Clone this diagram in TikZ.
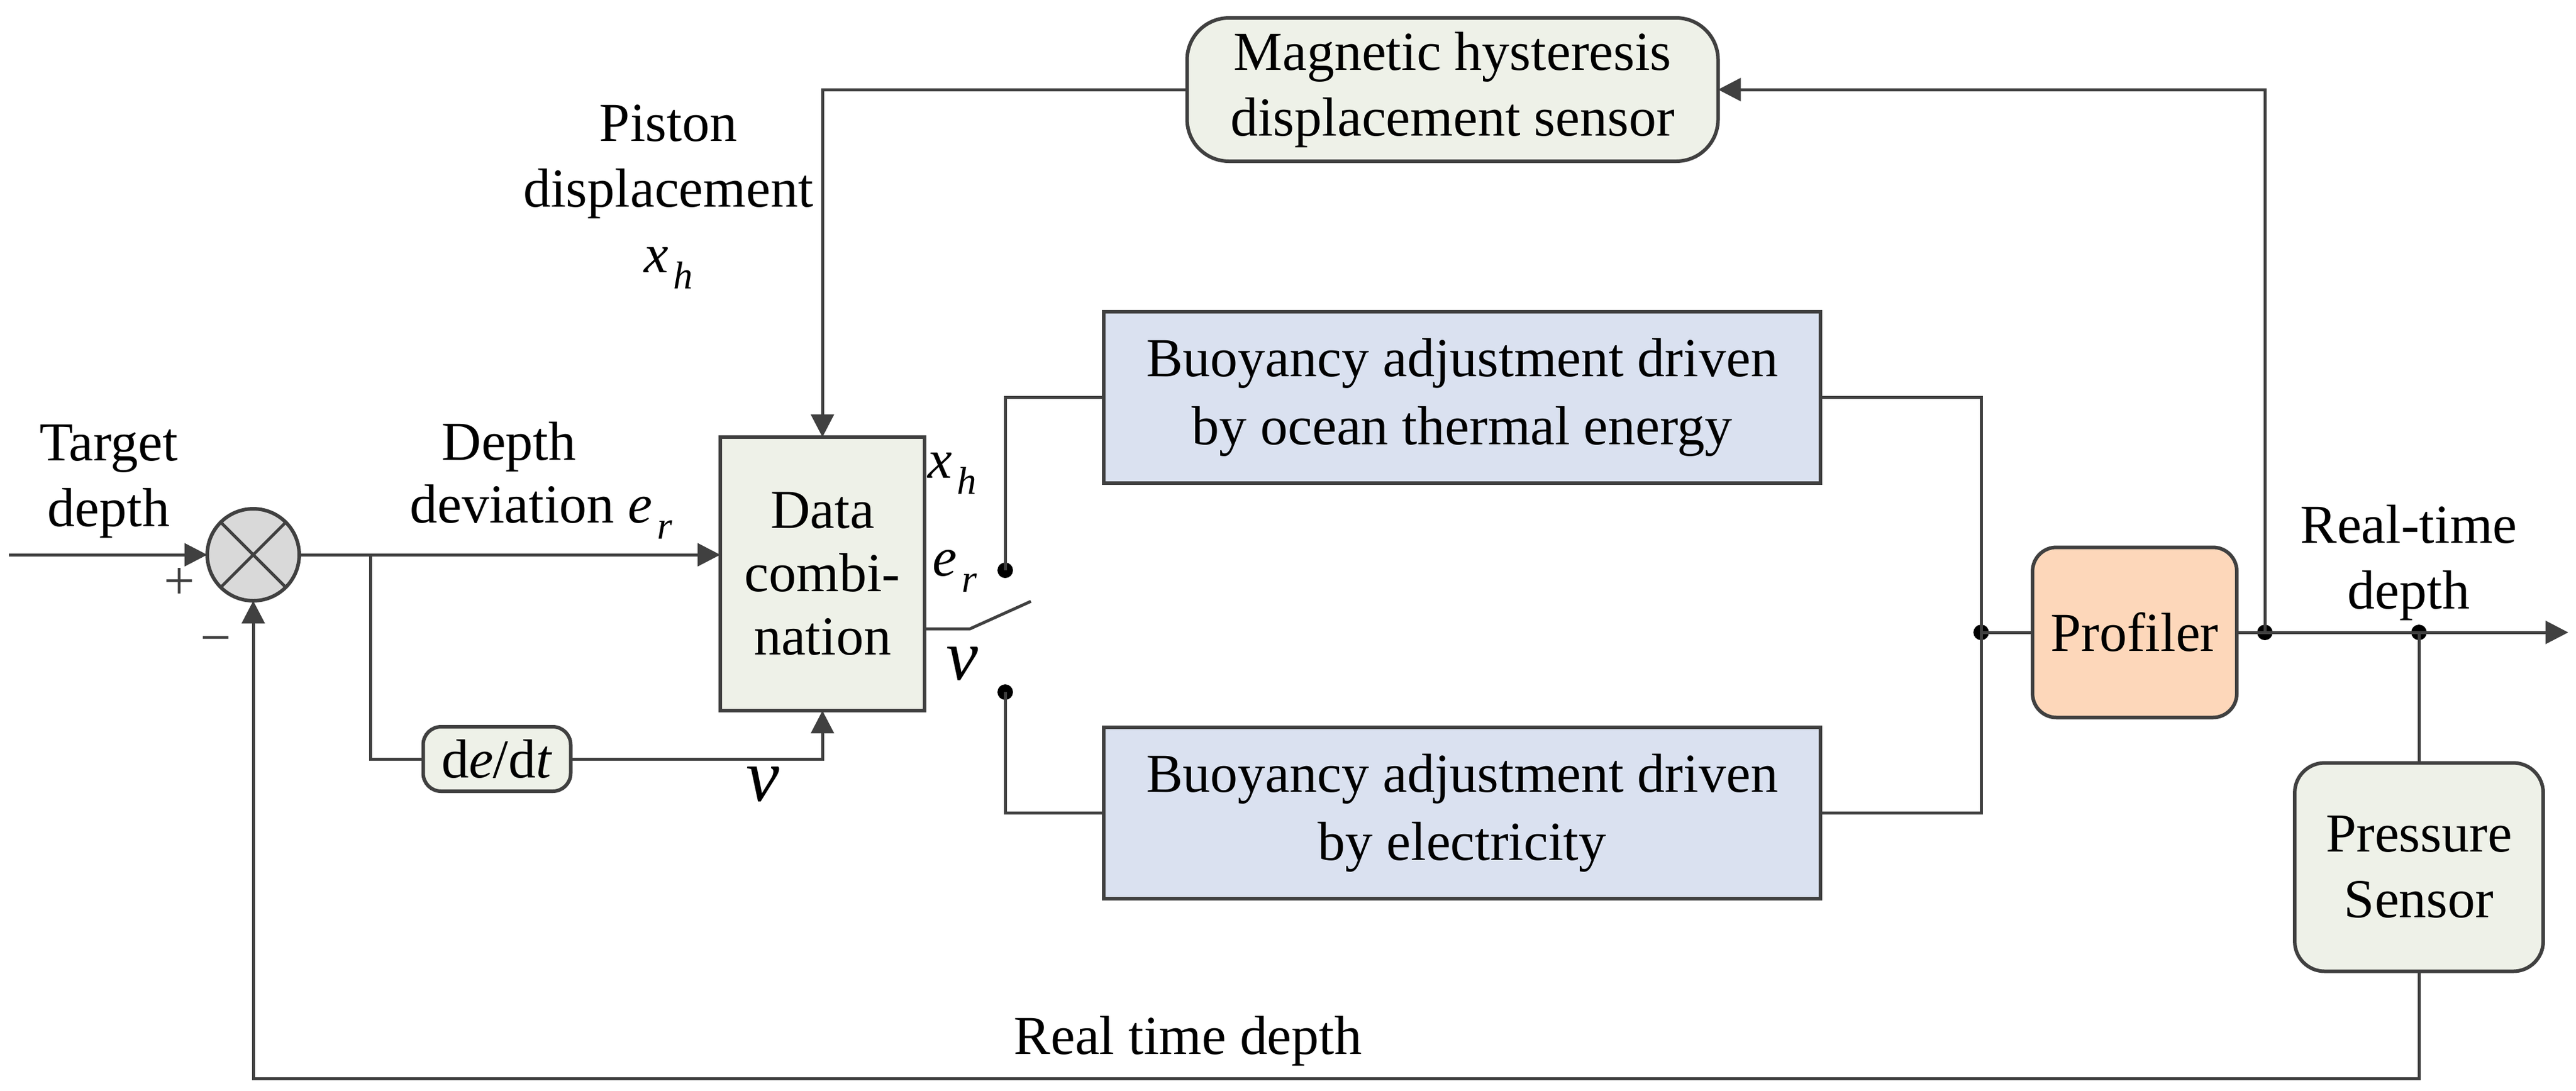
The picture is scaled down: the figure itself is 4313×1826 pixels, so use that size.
\documentclass[tikz,border=0pt]{standalone}
\usepackage{fontspec}
\setmainfont{Liberation Serif}
\usetikzlibrary{arrows.meta}
\definecolor{ln}{HTML}{404040}
\definecolor{gfill}{HTML}{EEF1E8}
\definecolor{bfill}{HTML}{DAE1F0}
\definecolor{pfill}{HTML}{FDD7BA}
\definecolor{cfill}{HTML}{D9D9D9}
\newcommand\sbs[1]{\kern0.8pt\raisebox{-2.7pt}{\fontsize{6.5}{7}\selectfont\itshape #1}}
\begin{document}
\begin{tikzpicture}[x=0.1pt,y=-0.1pt,
  every node/.style={font=\fontsize{9.2}{11}\selectfont, inner sep=0pt, outer sep=0pt},
  lbl/.style={align=center},
  box/.style={draw=ln, line width=0.6pt, align=center},
  conn/.style={draw=ln, line width=0.5pt},
  arr/.style={conn, -{Triangle[length=3.8pt,width=3.8pt]}},
  dot/.style={circle, fill=black, minimum size=2.6pt}
]
\useasboundingbox (0,0) rectangle (4313,1826);

% summing junction
\node[circle, draw=ln, fill=cfill, line width=0.6pt, minimum size=15.4pt] (sum) at (424,929) {};
\draw[conn] (sum.north west) -- (sum.south east);
\draw[conn] (sum.north east) -- (sum.south west);
\coordinate (in) at (15,929);
\draw[arr] (in) -- (sum.west);

% data combination
\node[box, fill=gfill, minimum width=34.2pt, minimum height=45.8pt, font=\fontsize{9.2}{10.6}\selectfont] (data) at (1377,961) {Data\\combi-\\nation};
\draw[arr] (sum.east) -- (sum.east -| data.west);

% derivative
\coordinate (br) at (620,929);
\node[box, fill=gfill, rounded corners=3pt, minimum width=24.7pt, minimum height=10.8pt] (dedt) at (832,1271) {d\textit{e}/d\textit{t}};
\draw[conn] (br) |- (dedt.west);
\draw[arr] (dedt.east) -| (data.south);

% magnetic sensor
\node[box, fill=gfill, rounded corners=7pt, minimum width=88.9pt, minimum height=24pt] (mag) at (2432,150) {Magnetic hysteresis\\displacement sensor};
\draw[arr] (mag.west) -| (data.north);

% buoyancy boxes
\node[box, fill=bfill, minimum width=120pt, minimum height=28.7pt, font=\fontsize{9.2}{11.4}\selectfont] (up) at (2448,665) {Buoyancy adjustment driven\\by ocean thermal energy};
\node[box, fill=bfill, minimum width=120pt, minimum height=28.7pt, font=\fontsize{9.2}{11.4}\selectfont] (lo) at (2448,1361) {Buoyancy adjustment driven\\by electricity};

% switch
\coordinate (sw0) at (1624,1053);
\coordinate (sw1) at (1726,1007);
\draw[conn] (data.east |- sw0) -- (sw0) -- (sw1);
\node[dot] (c1) at (1683,955) {};
\node[dot] (c2) at (1683,1159) {};
\draw[conn] (c1.center) |- (up.west);
\draw[conn] (c2.center) |- (lo.west);

% junction and profiler
\node[dot] (j1) at (3317,1059) {};
\draw[conn] (up.east) -| (j1.center) |- (lo.east);
\node[box, fill=pfill, rounded corners=4pt, minimum width=34.2pt, minimum height=28.5pt] (prof) at (3574,1059) {Profiler};
\draw[conn] (j1.center) -- (prof.west);
\node[dot] (j2) at (3792,1059) {};
\node[dot] (j3) at (4050,1059) {};
\coordinate (out) at (4300,1059);
\draw[arr] (prof.east) -- (out);
\draw[arr] (j2.center) |- (mag.east);

% pressure sensor and feedback
\node[box, fill=gfill, rounded corners=5pt, minimum width=41.6pt, minimum height=34.9pt] (ps) at (4050,1452) {Pressure\\Sensor};
\draw[conn] (j3.center) -- (ps.north);
\coordinate (fb) at (4050,1806);
\draw[arr] (ps.south) -- (fb) -| (sum.south);

% labels
\node[lbl] (tgt) at (182,806) {Target\\depth};
\node[text=ln] (plus) at (300,977) {+};
\node[text=ln] (minus) at (361,1082) {−};
\node (dep) at (852,748) {Depth};
\node (dev) at (906,857) {deviation \textit{e}\sbs{r}};
\node[lbl] (pis) at (1119,330) {Piston\\displacement\\\textit{x}\sbs{h}};
\node (lxh) at (1594,793) {\textit{x}\sbs{h}};
\node (ler) at (1599,956) {\textit{e}\sbs{r}};
\node[font=\fontsize{12}{14}\selectfont\itshape] (lv1) at (1611,1112) {v};
\node[font=\fontsize{12.5}{14}\selectfont\itshape] (lv2) at (1277,1313) {v};
\node[lbl] (rtd) at (4033,942) {Real-time\\depth};
\node (rtd2) at (1989,1743) {Real time depth};
\end{tikzpicture}
\end{document}
